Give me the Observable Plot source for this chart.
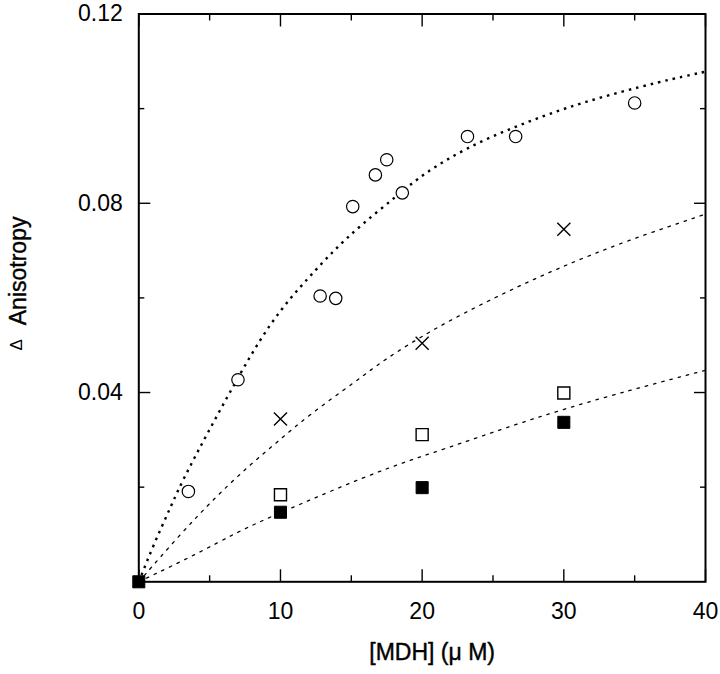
<!DOCTYPE html>
<html>
<head>
<meta charset="utf-8">
<script src="https://cdn.jsdelivr.net/npm/d3@7"></script>
<script src="https://cdn.jsdelivr.net/npm/@observablehq/plot@0.6"></script>
<style>
  html, body { margin: 0; padding: 0; background: #fff; }
  svg { display: block; overflow: visible; }
</style>
</head>
<body>
<div id="chart"></div>
<script>
// Open circles
const circleX = [3.5, 7.0, 12.8, 13.9, 15.1, 16.7, 17.5, 18.6, 23.2, 26.6, 35.0];
const circleY = [0.0191, 0.0427, 0.0604, 0.0599, 0.0793, 0.0860, 0.0892, 0.0822, 0.0941, 0.0941, 0.1012];
// Crosses
const crossX = [10, 20, 30];
const crossY = [0.0344, 0.0504, 0.0745];
// Open squares
const openSqX = [10, 20, 30];
const openSqY = [0.0184, 0.0311, 0.0399];
// Filled squares
const fillSqX = [0, 10, 20, 30];
const fillSqY = [0, 0.0147, 0.0199, 0.0337];

// Fitted curves
const fitAX = [0, 1.06, 2.25, 3.17, 6.47, 9.29, 12.1, 13.76, 15.63, 18.2, 20.1, 23.16, 26.69, 31.15, 37.02, 40];
const fitAY = [0, 0.008, 0.0158, 0.0221, 0.0404, 0.0552, 0.0647, 0.0700, 0.0753, 0.0815, 0.0863, 0.0918, 0.0964, 0.1013, 0.1059, 0.1078];
const fitBX = [0, 2.94, 5.29, 7.64, 9.76, 12.1, 15.4, 17.05, 20.8, 25.39, 29.74, 34.44, 40];
const fitBY = [0, 0.0101, 0.0175, 0.0242, 0.0295, 0.0355, 0.0425, 0.0464, 0.0535, 0.0605, 0.0665, 0.0721, 0.0777];
const fitCX = [0, 4.12, 6.94, 9.29, 12.1, 15.87, 19.39, 21.75, 29.74, 40];
const fitCY = [0, 0.0059, 0.0105, 0.0137, 0.0173, 0.0221, 0.0260, 0.0282, 0.0366, 0.0447];

// Ticks
const xMajor = [0, 10, 20, 30, 40];
const xMinor = [5, 15, 25, 35];
const yLabeled = [0.04, 0.08, 0.12];
const yMajor = [0.04, 0.08];
const yMinor = [0.02, 0.06, 0.10];
const xTitle = "[MDH] (\u03BC M)";
const yTitle = "Anisotropy";
const yTitlePrefix = "\u0394";

const zip = (xs, ys) => xs.map((x, i) => ({x, y: ys[i]}));

const font = "'Liberation Sans', Arial, Helvetica, sans-serif";

const chart = Plot.plot({
  width: 720,
  height: 674,
  marginLeft: 138.3,
  marginRight: 15,
  marginTop: 13.5,
  marginBottom: 92.7,
  style: {fontFamily: font, background: "#fff", color: "#000"},
  x: {domain: [0, 40], axis: null},
  y: {domain: [0, 0.12], axis: null},
  marks: [
    // curves
    Plot.line(zip(fitAX, fitAY), {x: "x", y: "y", curve: "basis", stroke: "#000", strokeWidth: 2.4, strokeDasharray: "2.5,5", strokeLinecap: "butt"}),
    Plot.line(zip(fitBX, fitBY), {x: "x", y: "y", curve: "basis", stroke: "#000", strokeWidth: 1.3, strokeDasharray: "2.5,6"}),
    Plot.line(zip(fitCX, fitCY), {x: "x", y: "y", curve: "basis", stroke: "#000", strokeWidth: 1.3, strokeDasharray: "2.5,6"}),
    // frame
    Plot.frame({stroke: "#000", strokeWidth: 2}),
    // x ticks bottom/top (inward)
    Plot.axisX({anchor: "bottom", ticks: xMajor, tickSize: -12, strokeWidth: 1.4, fill: "none", label: null}),
    Plot.axisX({anchor: "bottom", ticks: xMinor, tickSize: -6, strokeWidth: 1.4, fill: "none", label: null}),
    Plot.axisX({anchor: "top", ticks: xMajor, tickSize: -12, strokeWidth: 1.4, fill: "none", label: null}),
    Plot.axisX({anchor: "top", ticks: xMinor, tickSize: -6, strokeWidth: 1.4, fill: "none", label: null}),
    // y ticks left/right (inward)
    Plot.axisY({anchor: "left", ticks: yMajor, tickSize: -12, strokeWidth: 1.4, fill: "none", label: null}),
    Plot.axisY({anchor: "left", ticks: yMinor, tickSize: -6, strokeWidth: 1.4, fill: "none", label: null}),
    Plot.axisY({anchor: "right", ticks: yMajor, tickSize: -12, strokeWidth: 1.4, fill: "none", label: null}),
    Plot.axisY({anchor: "right", ticks: yMinor, tickSize: -6, strokeWidth: 1.4, fill: "none", label: null}),
    // tick labels
    Plot.axisX({anchor: "bottom", ticks: xMajor, tickSize: 0, tickPadding: 21, tickFormat: d => String(d), fontSize: 23, label: null, fill: "#000", stroke: "#000", strokeWidth: 0.4, style: "letter-spacing:1px"}),
    Plot.axisY({anchor: "left", ticks: yLabeled, tickSize: 0, tickPadding: 16, tickFormat: d3.format(".2f"), fontSize: 23, label: null, fill: "#000", stroke: "#000", strokeWidth: 0.4, style: "letter-spacing:1px"}),
    // axis titles
    Plot.text([xTitle], {frameAnchor: "bottom", textAnchor: "middle", lineAnchor: "middle", text: d => d, dx: 10, dy: 71, fontSize: 23, fill: "#000", stroke: "#000", strokeWidth: 0.4, style: "letter-spacing:1.5px"}),
    Plot.text([yTitle], {frameAnchor: "left", textAnchor: "middle", lineAnchor: "middle", text: d => d, rotate: -90, dx: -120.5, dy: -27, fontSize: 23, fill: "#000", stroke: "#000", strokeWidth: 0.4, style: "letter-spacing:1.5px"}),
    Plot.text([yTitlePrefix], {frameAnchor: "left", textAnchor: "middle", lineAnchor: "middle", text: d => d, rotate: -90, dx: -122, dy: 47, fontSize: 17, fill: "#000"}),
    // data points
    Plot.dot(zip(circleX, circleY), {x: "x", y: "y", r: 6.2, stroke: "#000", strokeWidth: 1.2, fill: "#fff", symbol: "circle"}),
    Plot.dot(zip(crossX, crossY), {x: "x", y: "y", r: 6, stroke: "#000", strokeWidth: 1.4, symbol: "times"}),
    Plot.dot(zip(openSqX, openSqY), {x: "x", y: "y", r: 6.8, stroke: "#000", strokeWidth: 1.4, fill: "#fff", symbol: "square"}),
    Plot.dot(zip(fillSqX, fillSqY), {x: "x", y: "y", r: 6.8, stroke: "#000", strokeWidth: 1, fill: "#000", symbol: "square"})
  ]
});
document.getElementById("chart").appendChild(chart);
</script>
</body>
</html>
